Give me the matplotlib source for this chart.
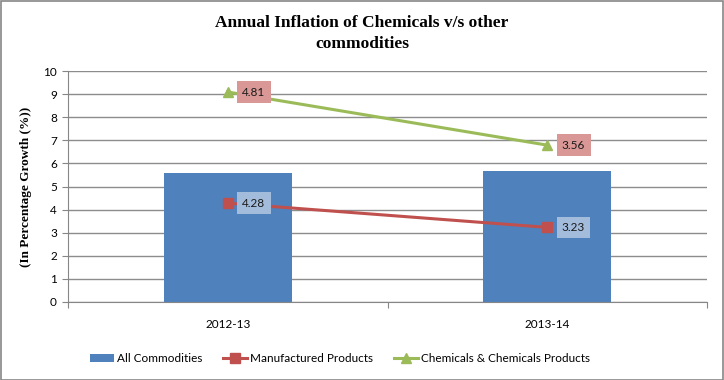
import matplotlib
matplotlib.use("Agg")
import matplotlib.pyplot as plt
import numpy as np
from matplotlib.patches import Rectangle

categories = ["2012-13", "2013-14"]
all_commodities = [5.6, 5.65]
manufactured = [4.28, 3.23]
chemicals = [4.81, 3.56]  # stacked on top of manufactured
yticks = list(range(0, 11))

SANS = "Lato"

fig = plt.figure(figsize=(7.24, 3.80), dpi=100)
fig.patch.set_facecolor("white")
fig.add_artist(Rectangle((0.001, 0.001), 0.997, 0.996, transform=fig.transFigure,
                         fill=False, edgecolor="#868686", linewidth=1.2))

ax = fig.add_axes([68/724, (380-302)/380, (707-68)/724, (302-71)/380])
x = np.arange(len(categories))

ax.bar(x, all_commodities, width=0.4, color="#4f81bd", zorder=2, label="All Commodities")
chem_stacked = [m + c for m, c in zip(manufactured, chemicals)]
ax.plot(x, manufactured, color="#c0504d", lw=2.2, marker="s", ms=7, zorder=3,
        label="Manufactured Products")
ax.plot(x, chem_stacked, color="#9bbb59", lw=2.2, marker="^", ms=7, zorder=3,
        label="Chemicals & Chemicals Products")

label_font = dict(fontsize=8.5, family=SANS, color="#1a1a1a")
for xi, v in zip(x, manufactured):
    ax.annotate(f"{v:.2f}", (xi, v), xytext=(10.5, 0), textcoords="offset points",
                ha="left", va="center", zorder=5,
                bbox=dict(boxstyle="square,pad=0.45", fc="#a3bcdc", ec="none"), **label_font)
for xi, v, lab in zip(x, chem_stacked, chemicals):
    ax.annotate(f"{lab:.2f}", (xi, v), xytext=(10.5, 0), textcoords="offset points",
                ha="left", va="center", zorder=5,
                bbox=dict(boxstyle="square,pad=0.45", fc="#d99795", ec="none"), **label_font)

ax.set_xlim(-0.5, 1.5)
ax.set_ylim(0, 10)
ax.set_yticks(yticks)
ax.yaxis.grid(True, color="#8c8c8c", lw=1, zorder=0)
ax.set_axisbelow(True)
for s in ["top", "right"]:
    ax.spines[s].set_visible(False)
ax.spines["left"].set_color("#868686")
ax.spines["bottom"].set_color("#868686")
ax.tick_params(axis="y", length=4, color="#868686", labelsize=8.5, pad=4)
ax.set_xticks([-0.5, 0.5, 1.5])
ax.set_xticklabels([])
ax.tick_params(axis="x", length=4, color="#868686")
for lab in ax.get_yticklabels():
    lab.set_fontfamily(SANS)
for xi, c in zip(x, categories):
    ax.text(xi, -0.98, c, ha="center", va="center", fontsize=8.5, family=SANS,
            transform=ax.transData)

ax.set_ylabel("(In Percentage Growth (%))", fontsize=9.5, family="Liberation Serif",
              fontweight="bold", labelpad=8)

fig.text(0.5, 0.912, "Annual Inflation of Chemicals v/s other\ncommodities", ha="center",
         va="center", fontsize=12.5, family="Liberation Serif", fontweight="bold",
         linespacing=1.4)

handles, labels = ax.get_legend_handles_labels()
order = [labels.index("All Commodities"), labels.index("Manufactured Products"),
         labels.index("Chemicals & Chemicals Products")]
leg = fig.legend([handles[i] for i in order], [labels[i] for i in order],
                 loc="upper left", bbox_to_anchor=(90/724, 1 - 353/380), ncol=3, frameon=False,
                 prop={"family": SANS, "size": 8.5}, handlelength=2.0,
                 columnspacing=1.8, handletextpad=0.25, borderaxespad=0, borderpad=0)

fig.savefig("out.png", dpi=100, facecolor="white")
